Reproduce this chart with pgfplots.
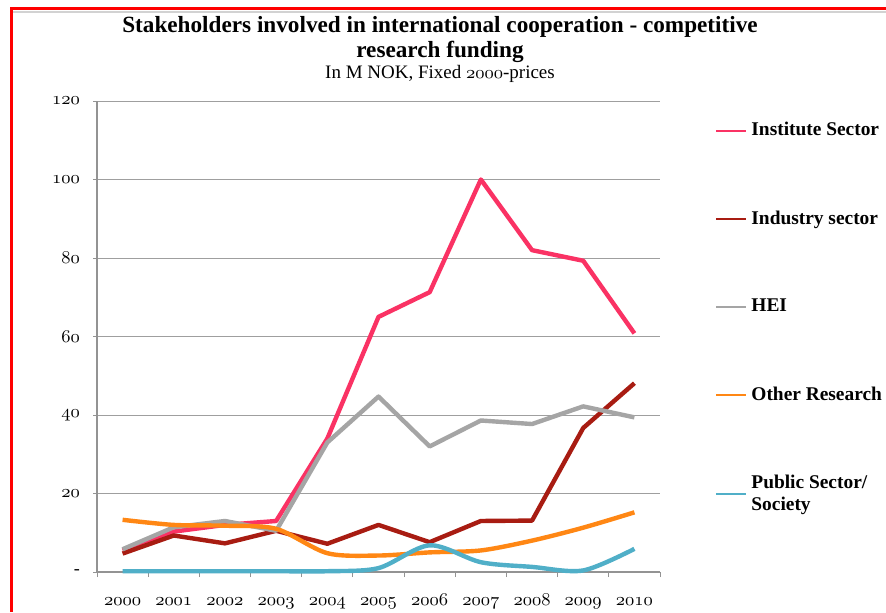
\documentclass[border=0pt]{standalone}
\usepackage{pgfplots}
\pgfplotsset{compat=1.18}
\usepackage{fontspec}
\setmainfont{Liberation Serif}
\newcommand\osf[1]{{\usefont{OML}{cmm}{m}{it}#1}}
\definecolor{cinst}{RGB}{250,50,100}
\definecolor{cind}{RGB}{168,28,18}
\definecolor{chei}{RGB}{165,165,165}
\definecolor{coth}{RGB}{255,135,20}
\definecolor{cpub}{RGB}{80,175,200}
\begin{document}
\begin{tikzpicture}
\useasboundingbox (0,0) rectangle (443pt,306pt);
\fill[white] (0,0) rectangle (443pt,306pt);
\draw[gray!35, line width=1pt] (5pt,300pt) -- (443pt,300pt);
\draw[red, line width=1.5pt] (5pt,301.5pt) -- (443pt,301.5pt);
\draw[red, line width=1.5pt] (5.5pt,302.25pt) -- (5.5pt,0pt);
\node[font=\bfseries\fontsize{11.6}{12.3}\selectfont, align=center] at (220pt,286.3pt) {Stakeholders involved in international cooperation - competitive\\research funding};
\node[font=\fontsize{9.5}{10}\selectfont] at (220pt,269pt) {In M NOK, Fixed \osf{2000}-prices};
\begin{axis}[
  at={(48.5pt,20pt)}, anchor=south west,
  scale only axis, width=281.5pt, height=235.5pt,
  xmin=1999.5, xmax=2010.5, ymin=0, ymax=120,
  clip=false,
  axis x line*=bottom, axis y line*=left,
  axis line style={-, draw=gray!85, line width=0.6pt},
  xtick={2000,2001,...,2010},
  xticklabels={\osf{2000},\osf{2001},\osf{2002},\osf{2003},\osf{2004},\osf{2005},\osf{2006},\osf{2007},\osf{2008},\osf{2009},\osf{2010}},
  major x tick style={draw=none},
  minor xtick={1999.5,2000.5,...,2010.5},
  ytick={0,20,...,120},
  yticklabels={-,\osf{20},\osf{40},\osf{60},\osf{80},\osf{100},\osf{120}},
  ymajorgrids, grid style={gray!75, line width=0.5pt},
  tick align=outside, major tick length=2pt, minor tick length=2.5pt,
  tick style={gray!85, line width=0.5pt},
  ticklabel style={font=\fontsize{9}{10}\selectfont},
  yticklabel style={xshift=-3pt},
  xticklabel style={yshift=-4.5pt, text height=6.5pt, text depth=0pt},
  legend style={draw=none, fill=none, at={(axis description cs:1.0977,0.9640)}, anchor=north west,
    font=\bfseries\fontsize{9.7}{10.7}\selectfont, row sep=32pt, inner sep=0pt, nodes={align=left}},
  legend cell align=left,
  legend image code/.code={\draw[#1, line width=1pt] (0pt,0pt) -- (15pt,0pt);},
  every axis plot/.append style={line width=2.2pt, line join=round},
]
\addplot[cinst] coordinates {(2000,5.5)(2001,10.3)(2002,12)(2003,13)(2004,34)(2005,65)(2006,71.3)(2007,100)(2008,82)(2009,79.3)(2010,60.8)};
\addlegendentry{Institute Sector}
\addplot[cind] coordinates {(2000,4.7)(2001,9.3)(2002,7.3)(2003,10.5)(2004,7.2)(2005,12)(2006,7.6)(2007,13)(2008,13.1)(2009,36.7)(2010,48.1)};
\addlegendentry{Industry sector}
\addplot[chei] coordinates {(2000,5.8)(2001,11.4)(2002,13)(2003,10.5)(2004,33)(2005,44.7)(2006,32)(2007,38.6)(2008,37.7)(2009,42.2)(2010,39.4)};
\addlegendentry{HEI}
\addplot[coth, smooth] coordinates {(2000,13.3)(2001,12)(2002,11.8)(2003,11)(2004,4.8)(2005,4.2)(2006,5)(2007,5.5)(2008,8)(2009,11.3)(2010,15.2)};
\addlegendentry{Other Research}
\addplot[cpub, smooth] coordinates {(2000,0.2)(2001,0.2)(2002,0.2)(2003,0.2)(2004,0.2)(2005,1)(2006,6.8)(2007,2.5)(2008,1.3)(2009,0.4)(2010,5.9)};
\addlegendentry{Public Sector/\\Society}
\end{axis}
\end{tikzpicture}
\end{document}
